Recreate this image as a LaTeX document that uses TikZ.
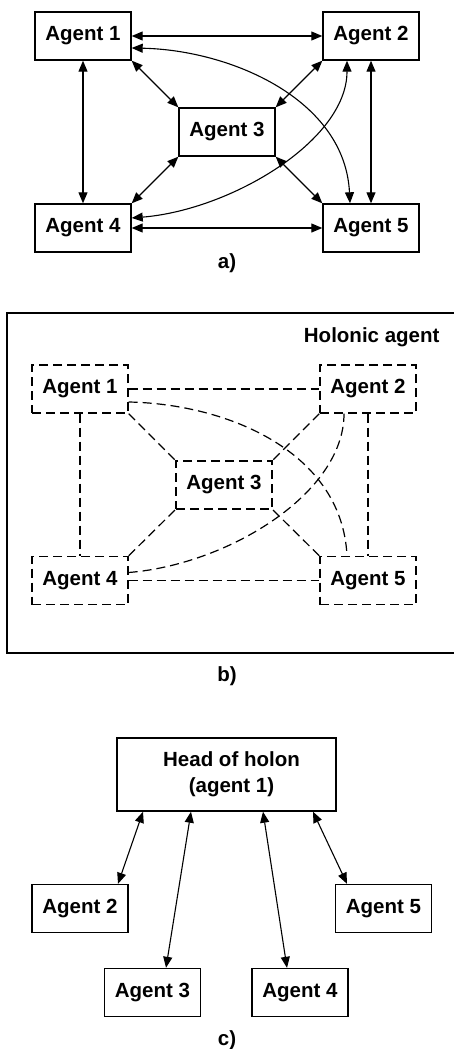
\documentclass[tikz,border=0pt]{standalone}
\usepackage{fontspec}
\setmainfont{Liberation Sans}
\usetikzlibrary{arrows.meta}
\begin{document}
\begin{tikzpicture}[x=1pt,y=-1pt,>={Triangle[length=11pt,width=9pt]},
  font=\fontsize{20.5}{26}\selectfont\bfseries,
  agent/.style={draw,line width=1.4pt,minimum width=96pt,minimum height=48pt,inner sep=0pt},
  agentd/.style={agent,dash pattern=on 9pt off 5pt},
  lnk/.style={<->,line width=1.1pt},
  lnkd/.style={line width=1.2pt,dash pattern=on 9pt off 5pt}]
\useasboundingbox (0,0) rectangle (454,1049);
% a) alle Agenten verbunden
\node[agent] (a1) at (83,36) {Agent 1};
\node[agent] (a2) at (371,36) {Agent 2};
\node[agent] (a3) at (227,132) {Agent 3};
\node[agent] (a4) at (83,228) {Agent 4};
\node[agent] (a5) at (371,228) {Agent 5};
\node (la) at (227,263) {a)};
\draw[lnk] (a1.east)--(a2.west);
\draw[lnk] (a4.east)--(a5.west);
\draw[lnk] (a1)--(a4);
\draw[lnk] (a2)--(a5);
\draw[lnk] (a1.south east)--(a3.north west);
\draw[lnk] (a2.south west)--(a3.north east);
\draw[lnk] (a4.north east)--(a3.south west);
\draw[lnk] (a5.north west)--(a3.south east);
\draw[lnk] ([yshift=-12pt]a1.east) .. controls +(99,2) and +(-5,-104) .. ([xshift=-21pt]a5.north);
\draw[lnk] ([yshift=10pt]a4.east) .. controls +(99,-8) and +(0,80) .. ([xshift=-24pt]a2.south);
% b) holonischer Agent
\draw[line width=1.4pt] (7,313) rectangle (460,653);
\node[anchor=east] (hol) at (443,337) {Holonic agent};
\node[agentd] (b1) at (80,389) {Agent 1};
\node[agentd] (b2) at (368,389) {Agent 2};
\node[agentd] (b3) at (224,485) {Agent 3};
\node[agentd] (b4) at (80,580.5) {Agent 4};
\node[agentd] (b5) at (368,580.5) {Agent 5};
\node (lb) at (227,676) {b)};
\draw[lnkd] (b1.east)--(b2.west);
\draw[lnkd] (b4.east)--(b5.west);
\draw[lnkd] (b1)--(b4);
\draw[lnkd] (b2)--(b5);
\draw[lnkd] (b1.south east)--(b3.north west);
\draw[lnkd] (b2.south west)--(b3.north east);
\draw[lnkd] (b4.north east)--(b3.south west);
\draw[lnkd] (b5.north west)--(b3.south east);
\draw[lnkd] ([yshift=-13pt]b1.east) .. controls +(99,2) and +(-5,-104) .. ([xshift=-21pt]b5.north);
\draw[lnkd] ([yshift=8pt]b4.east) .. controls +(99,-8) and +(0,80) .. ([xshift=-24pt]b2.south);
% c) Kopf des Holons
\node[agent,minimum width=219pt,minimum height=73pt,align=center] (head) at (226.5,774.5) {\hspace*{10pt}Head of holon\\\hspace*{10pt}(agent 1)};
\node[agent] (c2) at (80,908.5) {Agent 2};
\node[agent] (c3) at (152.5,992.5) {Agent 3};
\node[agent] (c4) at (300,992.5) {Agent 4};
\node[agent] (c5) at (383.5,908.5) {Agent 5};
\node (lc) at (227,1040) {c)};
\draw[lnk] ([xshift=-83.5pt]head.south)--([xshift=38pt]c2.north);
\draw[lnk] ([xshift=-35.5pt]head.south)--([xshift=13.5pt]c3.north);
\draw[lnk] ([xshift=36.5pt]head.south)--([xshift=-13pt]c4.north);
\draw[lnk] ([xshift=86.5pt]head.south)--([xshift=-36.5pt]c5.north);
\end{tikzpicture}
\end{document}
